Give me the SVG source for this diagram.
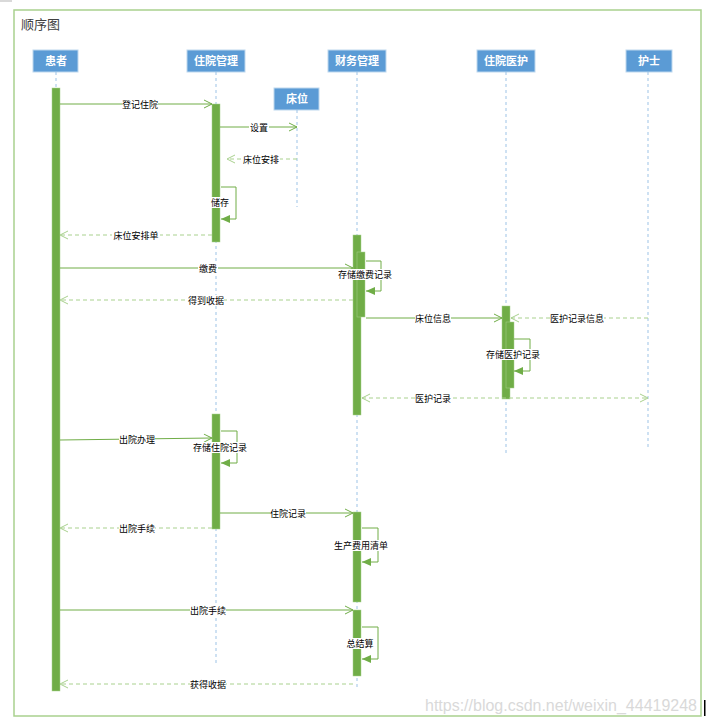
<svg xmlns="http://www.w3.org/2000/svg" width="706" height="723" viewBox="0 0 706 723">
<defs>
<marker id="open" markerWidth="10" markerHeight="10" refX="9" refY="5" orient="auto" markerUnits="userSpaceOnUse">
<path d="M1,1 L9,5 L1,9" fill="none" stroke="#70AD47" stroke-width="1"/>
</marker>
<marker id="openl" markerWidth="10" markerHeight="10" refX="9" refY="5" orient="auto" markerUnits="userSpaceOnUse">
<path d="M1,1 L9,5 L1,9" fill="none" stroke="#A9D18E" stroke-width="1"/>
</marker>
<marker id="openls" markerWidth="10" markerHeight="10" refX="1" refY="5" orient="auto" markerUnits="userSpaceOnUse">
<path d="M9,1 L1,5 L9,9" fill="none" stroke="#A9D18E" stroke-width="1"/>
</marker>
<marker id="fill" markerWidth="10" markerHeight="10" refX="9" refY="5" orient="auto" markerUnits="userSpaceOnUse">
<path d="M0,1 L9,5 L0,9 Z" fill="#70AD47"/>
</marker>
</defs>
<style>
.frame{fill:#fff;stroke:#A9D18E;stroke-width:1.5}
.title{font-family:"Liberation Sans","Noto Sans CJK SC",sans-serif;font-size:13px;fill:#404040}
.head rect{fill:#5B9BD5;stroke:#BDD7EE;stroke-width:1}
.head text{font-family:"Liberation Sans","Noto Sans CJK SC",sans-serif;font-size:11px;font-weight:bold;fill:#fff;text-anchor:middle}
.life{stroke:#9DC3E6;stroke-width:1;stroke-dasharray:3,3;fill:none}
.act{fill:#70AD47;stroke:#A9D18E;stroke-width:0.5}
.msg{stroke:#70AD47;stroke-width:1;fill:none;marker-end:url(#open)}
.ret{stroke:#A9D18E;stroke-width:1;stroke-dasharray:4,3;fill:none;marker-end:url(#openl)}
.self{stroke:#70AD47;stroke-width:1;fill:none;marker-end:url(#fill)}
.lbl{font-family:"Liberation Sans","Noto Sans CJK SC",sans-serif;font-size:9px;fill:#000;text-anchor:middle}
.lb{fill:#fff}
.wm{font-family:"Liberation Sans",Arial,sans-serif;font-size:16px;fill:#D9D9D9}
</style>
<rect x="0" y="0" width="706" height="723" fill="#fff"/>
<rect x="0" y="0" width="12" height="2" fill="#D9D9D9"/>
<rect class="frame" x="14" y="10" width="687" height="706"/>
<text class="title" x="21" y="29">顺序图</text>

<g id="patient">
<g class="head"><rect x="33" y="50" width="45" height="22"/><text x="56" y="65">患者</text></g>
<line class="life" x1="56" y1="72" x2="56" y2="88"/>
<rect class="act" x="52" y="88" width="8" height="603"/>
</g>
<g id="inpatient-mgmt">
<g class="head"><rect x="187" y="50" width="58" height="22"/><text x="216" y="65">住院管理</text></g>
<line class="life" x1="216" y1="72" x2="216" y2="665"/>
<rect class="act" x="212" y="104" width="8" height="138"/>
<rect class="act" x="212" y="414" width="8" height="115"/>
</g>
<g id="bed">
<g class="head"><rect x="274" y="88" width="45" height="22"/><text x="297" y="103">床位</text></g>
<line class="life" x1="297" y1="110" x2="297" y2="207"/>
</g>
<g id="finance">
<g class="head"><rect x="328" y="50" width="58" height="22"/><text x="357" y="65">财务管理</text></g>
<line class="life" x1="357" y1="72" x2="357" y2="690"/>
<rect class="act" x="353" y="235" width="8" height="180"/>
<rect class="act" x="357" y="252" width="8" height="65"/>
<rect class="act" x="353" y="512" width="8" height="90"/>
<rect class="act" x="353" y="610" width="8" height="66"/>
</g>
<g id="medical">
<g class="head"><rect x="477" y="50" width="58" height="22"/><text x="506" y="65">住院医护</text></g>
<line class="life" x1="506" y1="72" x2="506" y2="454"/>
<rect class="act" x="502" y="306" width="8" height="93"/>
<rect class="act" x="506" y="322" width="8" height="66"/>
</g>
<g id="nurse">
<g class="head"><rect x="626" y="50" width="46" height="22"/><text x="649" y="65">护士</text></g>
<line class="life" x1="648" y1="72" x2="648" y2="450"/>
</g>

<g id="connectors">
<line class="msg" x1="60" y1="104" x2="212" y2="104"/>
<rect class="lb" x="122" y="99" width="36" height="11"/><text class="lbl" x="140" y="108">登记住院</text>
<line class="msg" x1="220" y1="127" x2="297" y2="127"/>
<rect class="lb" x="249" y="122" width="20" height="11"/><text class="lbl" x="259" y="131">设置</text>
<line class="ret" x1="297" y1="159" x2="227" y2="159"/>
<rect class="lb" x="242" y="154" width="38" height="11"/><text class="lbl" x="261" y="163">床位安排</text>
<polyline class="self" points="221,187 236,187 236,219 221,219"/>
<rect class="lb" x="210" y="197" width="20" height="11"/><text class="lbl" x="220" y="206">储存</text>
<line class="ret" x1="212" y1="235" x2="60" y2="235"/>
<rect class="lb" x="112" y="230" width="48" height="11"/><text class="lbl" x="136" y="239">床位安排单</text>
<line class="msg" x1="60" y1="268" x2="353" y2="268"/>
<rect class="lb" x="198" y="263" width="20" height="11"/><text class="lbl" x="208" y="272">缴费</text>
<polyline class="self" points="366,261 381,261 381,291 366,291"/>
<rect class="lb" x="336" y="269" width="58" height="11"/><text class="lbl" x="365" y="278">存储缴费记录</text>
<line class="ret" x1="353" y1="300" x2="60" y2="300"/>
<rect class="lb" x="188" y="295" width="36" height="11"/><text class="lbl" x="206" y="304">得到收据</text>
<line class="msg" x1="366" y1="318" x2="502" y2="318"/>
<rect class="lb" x="415" y="313" width="36" height="11"/><text class="lbl" x="433" y="322">床位信息</text>
<line class="ret" x1="648" y1="318" x2="511" y2="318"/>
<rect class="lb" x="550" y="313" width="54" height="11"/><text class="lbl" x="577" y="322">医护记录信息</text>
<polyline class="self" points="514,339 530,339 530,371 514,371"/>
<rect class="lb" x="484" y="349" width="58" height="11"/><text class="lbl" x="513" y="358">存储医护记录</text>
<line class="ret" x1="362" y1="398" x2="648" y2="398" marker-start="url(#openls)"/>
<rect class="lb" x="415" y="393" width="36" height="11"/><text class="lbl" x="433" y="402">医护记录</text>
<line class="msg" x1="60" y1="440" x2="212" y2="438"/>
<rect class="lb" x="119" y="434" width="36" height="11"/><text class="lbl" x="137" y="443">出院办理</text>
<polyline class="self" points="221,431 237,431 237,463 221,463"/>
<rect class="lb" x="192" y="442" width="56" height="11"/><text class="lbl" x="220" y="451">存储住院记录</text>
<line class="msg" x1="220" y1="513" x2="353" y2="513"/>
<rect class="lb" x="270" y="508" width="36" height="11"/><text class="lbl" x="288" y="517">住院记录</text>
<line class="ret" x1="212" y1="528" x2="60" y2="528"/>
<rect class="lb" x="119" y="523" width="36" height="11"/><text class="lbl" x="137" y="532">出院手续</text>
<polyline class="self" points="362,528 378,528 378,562 362,562"/>
<rect class="lb" x="332" y="540" width="58" height="11"/><text class="lbl" x="361" y="549">生产费用清单</text>
<line class="msg" x1="60" y1="610" x2="353" y2="610"/>
<rect class="lb" x="190" y="605" width="36" height="11"/><text class="lbl" x="208" y="614">出院手续</text>
<polyline class="self" points="362,627 378,627 378,659 362,659"/>
<rect class="lb" x="346" y="638" width="28" height="11"/><text class="lbl" x="360" y="647">总结算</text>
<line class="ret" x1="353" y1="684" x2="60" y2="684"/>
<rect class="lb" x="190" y="679" width="36" height="11"/><text class="lbl" x="208" y="688">获得收据</text>
</g>
<text class="wm" x="425" y="711" textLength="272" lengthAdjust="spacingAndGlyphs">https://blog.csdn.net/weixin_44419248</text>
<rect x="704" y="700" width="1.5" height="16" fill="#000"/>
</svg>
